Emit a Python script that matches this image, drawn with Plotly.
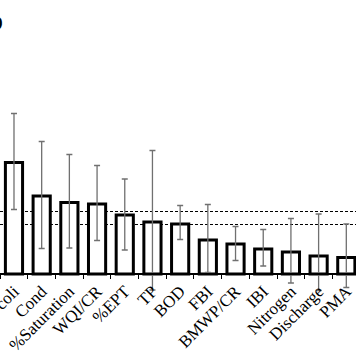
import plotly.graph_objects as go

categories = ["E. coli", "Cond", "%Saturation", "WQI/CR", "%EPT", "TP", "BOD",
              "FBI", "BMWP/CR", "IBI", "Nitrogen", "Discharge", "PMA", "Temp"]
values = [22.3, 15.6, 14.3, 14.0, 11.8, 10.4, 10.0, 6.8, 6.0, 5.0, 4.4, 3.6, 3.3, 3.0]
upper = [32.1, 26.5, 23.9, 21.7, 19.0, 24.7, 13.7, 13.9, 9.5, 8.9, 11.1, 12.0, 10.0, 9.0]
lower = [12.9, 5.1, 5.2, 6.7, 4.8, -3.2, 6.9, 0.3, 2.7, 1.6, -1.8, -3.3, -2.7, -3.0]
ref_lines = [12.5, 9.9]

err_plus = [u - v for u, v in zip(upper, values)]
err_minus = [v - l for v, l in zip(values, lower)]

W, H = 356, 364
base_px = 274
px_per_unit = 5.0
ymax = base_px / px_per_unit
ymin = -(H - base_px) / px_per_unit

fig = go.Figure()
fig.add_trace(go.Bar(
    x=categories, y=values,
    marker=dict(color="white", line=dict(color="black", width=3)),
    error_y=dict(type="data", symmetric=False, array=err_plus, arrayminus=err_minus,
                 color="#707070", thickness=1.3, width=3),
))

for yv in ref_lines:
    fig.add_shape(type="line", xref="paper", x0=0, x1=1, yref="y", y0=yv, y1=yv,
                  line=dict(color="black", width=1, dash="3px,2px"), layer="below")

fig.add_annotation(text="<b>b</b>", xref="paper", yref="paper",
                   x=4.5 / W, y=1 - 38 / H, xanchor="right", yanchor="bottom",
                   showarrow=False, font=dict(family="Liberation Serif", size=27, color="black"))

fig.update_layout(
    width=W, height=H,
    margin=dict(l=0, r=0, t=0, b=0),
    paper_bgcolor="white", plot_bgcolor="white",
    showlegend=False,
    bargap=0.38,
    font=dict(family="Liberation Serif", size=17, color="black"),
    xaxis=dict(
        type="category", range=[-0.505, 12.35],
        anchor="free", position=(H - base_px) / H,
        showline=True, linecolor="black", linewidth=1.5,
        ticks="outside", tickson="boundaries", ticklen=4, tickcolor="black", tickwidth=1,
        tickangle=-45, tickfont=dict(family="Liberation Serif", size=17, color="black"),
        showgrid=False, zeroline=False, automargin=False,
    ),
    yaxis=dict(range=[ymin, ymax], visible=False, showgrid=False, zeroline=False),
)

fig.write_html("out.html", config={"displayModeBar": False},
               post_script="document.body.style.margin='0';document.body.style.overflow='hidden';")
